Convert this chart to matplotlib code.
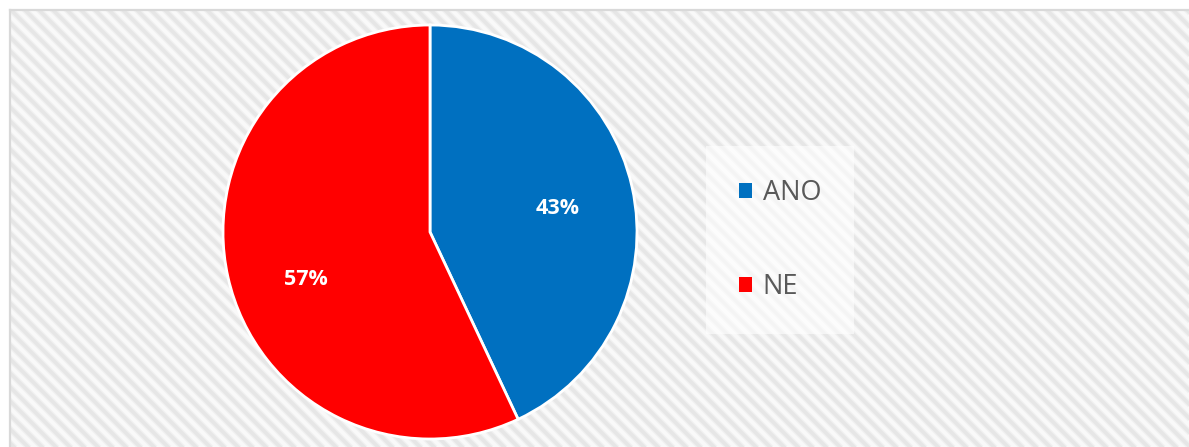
import matplotlib
matplotlib.use("Agg")
import matplotlib.pyplot as plt
from matplotlib.patches import Rectangle, Patch

categories = ["ANO", "NE"]
values = [43, 57]
colors = ["#0070C0", "#FF0000"]

W, H = 1189, 447
fig = plt.figure(figsize=(W / 100, H / 100), dpi=100)
fig.patch.set_facecolor("white")

# background chart area (pixel coordinates, y downward)
bgax = fig.add_axes([0, 0, 1, 1], zorder=-5)
bgax.set_xlim(0, W)
bgax.set_ylim(H, 0)
bgax.axis("off")
area = Rectangle((10, 10), W, H, facecolor="#F9F9F9", edgecolor="none", zorder=0)
bgax.add_patch(area)
period = 14
for c in range(-H, W + period, period):
    for lw, col in ((4.2, "#EFEFEF"), (2.4, "#E6E6E6")):
        ln, = bgax.plot([c, c + H + 20], [0, H + 20], color=col, lw=lw,
                        solid_capstyle="butt", zorder=1)
        ln.set_clip_path(area)
bgax.plot([10, 10], [10, H], color="#D9D9D9", lw=1.6, zorder=2)
bgax.plot([10, W], [10, 10], color="#D9D9D9", lw=1.6, zorder=2)

cx, cy, r = 430, H - 232, 207
ax = fig.add_axes([(cx - r) / W, (cy - r) / H, 2 * r / W, 2 * r / H], zorder=2)
ax.patch.set_visible(False)

wedges, texts, autotexts = ax.pie(
    values, colors=colors, startangle=90, counterclock=False,
    autopct="%1.0f%%", pctdistance=0.63, radius=1.0,
    wedgeprops=dict(edgecolor="white", linewidth=2),
    textprops=dict(color="white", fontsize=15.5, fontweight="bold",
                   family="Open Sans"))
ax.set_xlim(-1, 1)
ax.set_ylim(-1, 1)
ax.set_aspect("equal")
ax.axis("off")
for w in wedges:
    w.set_clip_on(False)
# Excel label placement
x, y = autotexts[0].get_position()
autotexts[0].set_position((x, y - 0.025))
x, y = autotexts[1].get_position()
autotexts[1].set_position((x + 0.015, y - 0.09))

handles = [Patch(facecolor=c, edgecolor="none") for c in colors]
leg = fig.legend(handles, categories, loc="center",
                 bbox_to_anchor=(780 / W, 1 - 240 / H),
                 prop=dict(family="Open Sans", size=19.5),
                 frameon=True, fancybox=False,
                 handlelength=0.48, handleheight=0.48, handletextpad=0.4,
                 labelspacing=2.45, borderpad=1.2, borderaxespad=0,
                 labelcolor="#595959")
frame = leg.get_frame()
frame.set_facecolor("white")
frame.set_alpha(0.6)
frame.set_edgecolor("none")

fig.savefig("out.png", dpi=100)
